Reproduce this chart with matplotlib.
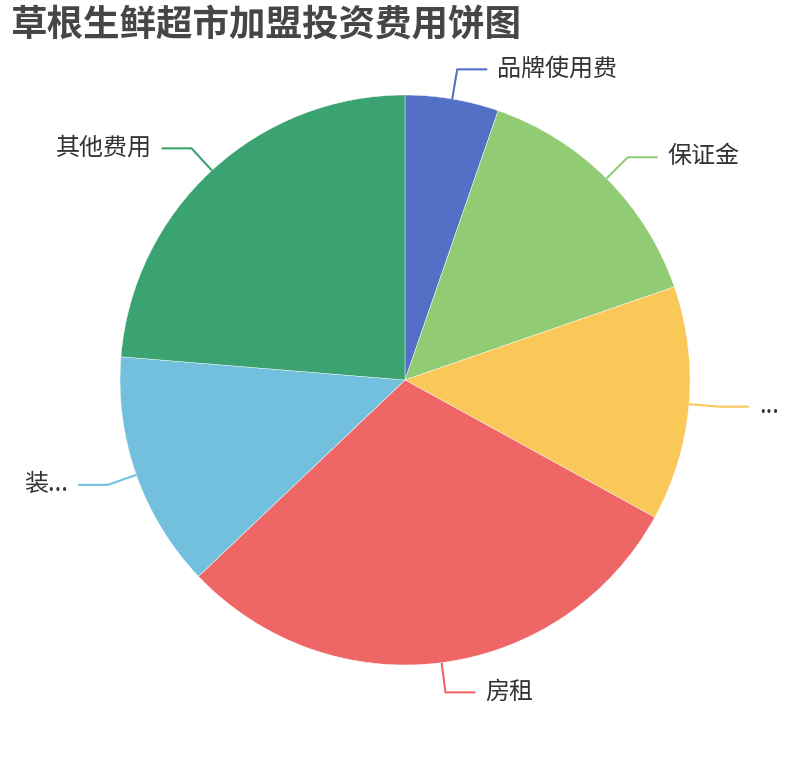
import numpy as np
import matplotlib.pyplot as plt

plt.rcParams['font.family'] = ['Noto Sans CJK SC', 'DejaVu Sans']

# 各项费用占比(从饼图角度估读)
categories = ['品牌使用费', '保证金', '设备费用', '房租', '装修费用', '其他费用']
shown_labels = ['品牌使用费', '保证金', '...', '房租', '装...', '其他费用']
values = [5.3, 14.4, 13.3, 29.9, 13.4, 23.7]
colors = ['#5470c6', '#91cc75', '#fac858', '#ee6666', '#73c0de', '#3ba272']

W, H = 810, 760
fig = plt.figure(figsize=(W / 100, H / 100), dpi=100)
ax = fig.add_axes([0, 0, 1, 1])

cx, cy, r = 405, 380, 285
wedges, _ = ax.pie(values, colors=colors, startangle=90, counterclock=False,
                   center=(cx, cy), radius=r, frame=True,
                   wedgeprops=dict(linewidth=0.3, edgecolor='white'))
ax.set_xlim(0, W)
ax.set_ylim(0, H)
ax.axis('off')

for w, lab, col in zip(wedges, shown_labels, colors):
    ang = np.deg2rad((w.theta1 + w.theta2) / 2)
    c, s = np.cos(ang), np.sin(ang)
    x0, y0 = cx + r * c, cy + r * s
    x1, y1 = cx + (r + 30) * c, cy + (r + 30) * s
    side = 1 if c >= 0 else -1
    x2 = x1 + side * 30
    ax.plot([x0, x1, x2], [y0, y1, y1], color=col, lw=1.5, solid_capstyle='butt')
    ax.text(x2 + side * 10, y1 + 1, lab, ha='left' if side > 0 else 'right',
            va='center', fontsize=17.3, color='#333333')

fig.text(10 / W, 1 - 25 / H, '草根生鲜超市加盟投资费用饼图', fontsize=26.3,
         fontweight='bold', color='#464646', ha='left', va='center')

fig.savefig('out.png', dpi=100, facecolor='white')
